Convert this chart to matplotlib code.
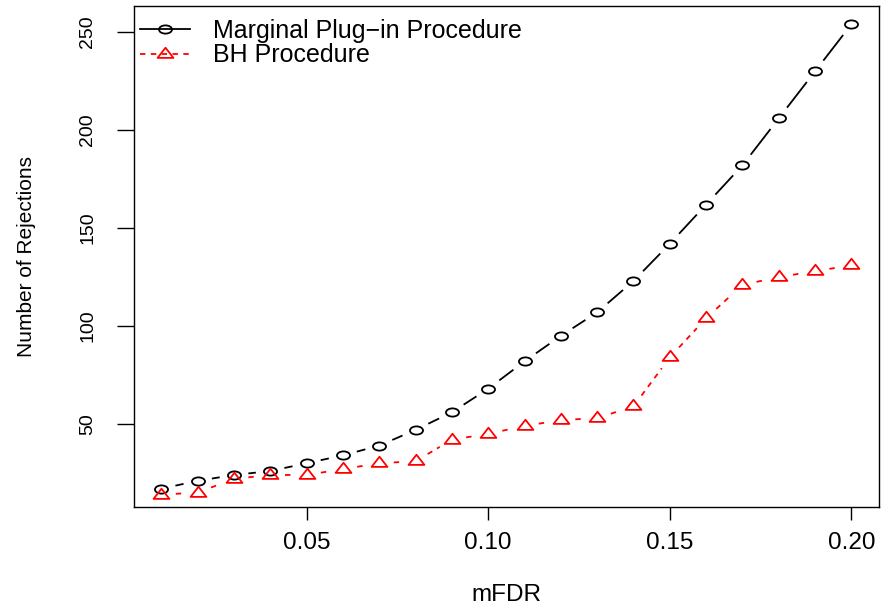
import numpy as np
import matplotlib
matplotlib.use("Agg")
import matplotlib.pyplot as plt
from matplotlib.path import Path
from matplotlib.transforms import Affine2D
from matplotlib.lines import Line2D

plt.rcParams['font.family'] = ['Liberation Sans', 'DejaVu Sans']

# ---- data ----
mfdr = [0.01, 0.02, 0.03, 0.04, 0.05, 0.06, 0.07, 0.08, 0.09, 0.10,
        0.11, 0.12, 0.13, 0.14, 0.15, 0.16, 0.17, 0.18, 0.19, 0.20]
plugin = [17, 21, 24, 26, 30, 34, 39, 47, 56, 68,
          82, 95, 107, 123, 142, 162, 182, 206, 230, 254]
bh = [14, 15, 22, 24, 24, 27, 30, 31, 42, 45,
      49, 52, 53, 59, 84, 104, 121, 125, 128, 131]
xticks = [0.05, 0.10, 0.15, 0.20]
xticklabels = ["0.05", "0.10", "0.15", "0.20"]
yticks = [50, 100, 150, 200, 250]
labels = ["Marginal Plug\u2212in Procedure", "BH Procedure"]

# ---- markers (slightly wide, as in the reference) ----
ell = Path.unit_circle().transformed(Affine2D().scale(1.0, 0.63))
tri = Path([(0, 1), (-1.17, -0.5), (1.17, -0.5), (0, 1)],
           [Path.MOVETO, Path.LINETO, Path.LINETO, Path.CLOSEPOLY])

fig = plt.figure(figsize=(8.82, 6.07), dpi=100)
ax = fig.add_axes([0.1516, 0.1643, 0.845, 0.8263])

x = np.array(mfdr)
pad_x = 0.04 * (x.max() - x.min())
ax.set_xlim(x.min() - pad_x, x.max() + pad_x)
yb = np.array(plugin, dtype=float)
pad_y = 0.04 * (yb.max() - yb.min())
ax.set_ylim(yb.min() - pad_y, yb.max() + pad_y)

LW = 1.3
GAP_A, GAP_B = 14.5, 13.0  # gap ellipse around points (pixels)


def gapped_lines(xs, ys, color, dashes=None):
    pts = ax.transData.transform(np.column_stack([xs, ys]))
    inv = ax.transData.inverted()
    for p0, p1 in zip(pts[:-1], pts[1:]):
        d = p1 - p0
        t = 1.0 / np.sqrt((d[0] / GAP_A) ** 2 + (d[1] / GAP_B) ** 2)
        if 2 * t >= 1:
            continue
        s = inv.transform(np.vstack([p0 + t * d, p1 - t * d]))
        ln, = ax.plot(s[:, 0], s[:, 1], color=color, lw=LW,
                      solid_capstyle='butt', dash_capstyle='butt')
        if dashes is not None:
            ln.set_dashes(dashes)


gapped_lines(mfdr, plugin, 'black')
ax.plot(mfdr, plugin, linestyle='none', marker=ell, ms=9.4,
        mfc='none', mec='black', mew=LW)
gapped_lines(mfdr, bh, 'red', dashes=(3.0, 3.0))
ax.plot(mfdr, bh, linestyle='none', marker=tri, ms=11.4,
        mfc='none', mec='red', mew=LW)

ax.set_xticks(xticks)
ax.set_xticklabels(xticklabels)
ax.set_yticks(yticks)
ax.tick_params(axis='x', length=9, width=1.0, pad=9, labelsize=17.5)
ax.tick_params(axis='y', length=12, width=1.0, pad=15, labelsize=14,
               labelrotation=90)
for lab in ax.get_yticklabels():
    lab.set_va('center')
for sp in ax.spines.values():
    sp.set_linewidth(1.0)

ax.set_xlabel("mFDR", fontsize=17.5)
ax.xaxis.label.set_va('baseline')
ax.xaxis.set_label_coords(0.5, -0.186)
ax.set_ylabel("Number of Rejections", fontsize=15)
ax.yaxis.set_label_coords(-0.131, 0.5)

h1 = Line2D([], [], color='black', lw=LW, marker=ell, ms=9.4,
            mfc='none', mec='black', mew=LW)
h2 = Line2D([], [], color='red', lw=LW, marker=tri, ms=11.4,
            mfc='none', mec='red', mew=LW, dashes=(3.0, 3.0))
ax.legend([h1, h2], labels, loc='upper left',
          bbox_to_anchor=(0.0085, 0.974), frameon=False, fontsize=18,
          handlelength=2.0, handletextpad=0.92, labelspacing=0.03,
          borderpad=0, borderaxespad=0)

fig.savefig("out.png", dpi=100)
